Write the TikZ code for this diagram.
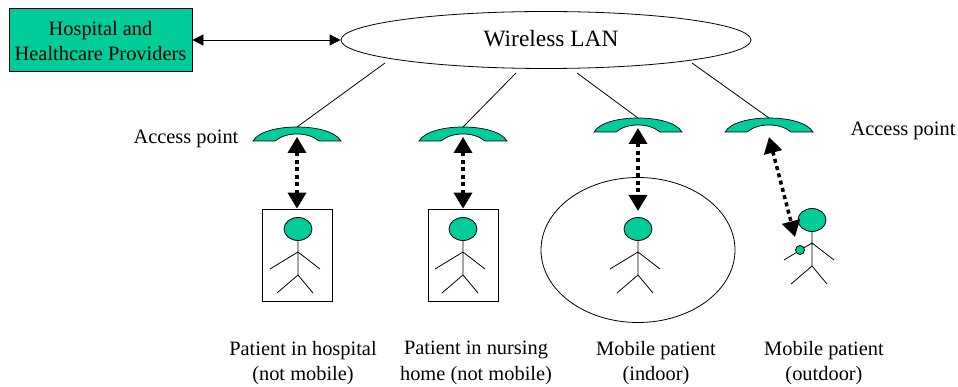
\documentclass[tikz,border=0pt]{standalone}
\usepackage{fontspec}
\setmainfont{Liberation Serif}
\usetikzlibrary{arrows.meta,shapes.geometric}
\definecolor{tealfill}{RGB}{0,204,153}
\tikzset{
  x=1pt,y=-1pt,
  every node/.style={font=\fontsize{20.4}{25.5}\selectfont},
  line/.style={draw=black,line width=0.8pt},
  label/.style={align=center,inner sep=0pt},
  smallarrow/.style={line width=0.8pt,{Triangle[length=11pt,width=11pt]}-{Triangle[length=11pt,width=11pt]}},
  dotarrow/.style={line width=3.5pt,dash pattern=on 4pt off 3.5pt,{Triangle[length=16pt,width=18pt]}-{Triangle[length=16pt,width=18pt]}},
  headnode/.style={ellipse,draw=black,line width=0.8pt,fill=tealfill,minimum width=28pt,minimum height=23pt,inner sep=0pt},
  phone/.pic={
    \path[line,fill=tealfill,line width=0.7pt] (-44,14) .. controls (-38,4) and (-18,0) .. (0,0)
      .. controls (18,0) and (38,4) .. (44,14) -- (22,14)
      .. controls (16,9) and (8,7) .. (0,7)
      .. controls (-8,7) and (-16,9) .. (-22,14) -- cycle;
  },
  stick/.pic={
    \draw[line] (0,12) -- (0,46) (0,23) -- (-28,40) (0,23) -- (22,40) (0,46) -- (-21,64) (0,46) -- (15,64);
  }
}
\begin{document}
\begin{tikzpicture}
\useasboundingbox (0,0) rectangle (958,387);

\node[draw=black,line width=0.8pt,fill=tealfill,minimum width=183pt,minimum height=63pt,inner sep=0pt] (hosp) at (100.5,40) {};
\node[align=center,inner sep=0pt] (hosptext) at (100.5,41) {Hospital and\\Healthcare Providers};
\node[ellipse,draw=black,line width=0.8pt,minimum width=410pt,minimum height=57pt,inner sep=0pt] (wlan) at (546,40) {};
\node[inner sep=0pt,font=\fontsize{23.4}{28}\selectfont] (wlantext) at (551,39) {Wireless LAN};
\draw[smallarrow] (hosp.east) -- (wlan.west);

\coordinate (p1) at (297,127);
\coordinate (p2) at (463,127);
\coordinate (p3) at (638,118);
\coordinate (p4) at (769,118);
\pic at (p1) {phone};
\pic at (p2) {phone};
\pic at (p3) {phone};
\pic at (p4) {phone};

\coordinate (w1) at (385,63);
\coordinate (w2) at (516,73);
\coordinate (w3) at (577,73);
\coordinate (w4) at (692,63);
\draw[line] (w1) -- (p1);
\draw[line] (w2) -- (p2);
\draw[line] (w3) -- (p3);
\draw[line] (w4) -- (p4);

\node[draw=black,line width=0.8pt,minimum width=70pt,minimum height=92pt,inner sep=0pt] (box1) at (297,255) {};
\node[draw=black,line width=0.8pt,minimum width=70pt,minimum height=92pt,inner sep=0pt] (box2) at (463,255) {};
\node[ellipse,draw=black,line width=0.8pt,minimum width=194pt,minimum height=145pt,inner sep=0pt] (circ3) at (638,250) {};

\pic at (298,229) {stick};
\pic at (463,229) {stick};
\pic at (638,229) {stick};
\pic at (812,220) {stick};
\node[headnode] (h1) at (298,229) {};
\node[headnode] (h2) at (463,229) {};
\node[headnode] (h3) at (638,229) {};
\node[headnode] (h4) at (812,220) {};
\node[circle,draw=black,line width=0.8pt,fill=tealfill,minimum size=9pt,inner sep=0pt] (dev) at (800,250) {};

\coordinate (a1) at (297,137);
\coordinate (a2) at (463,137);
\coordinate (a3) at (638,128);
\coordinate (a4) at (769,137);
\coordinate (b3) at (638,211);
\coordinate (b4) at (795,237);
\draw[dotarrow] (a1) -- (box1.north);
\draw[dotarrow] (a2) -- (box2.north);
\draw[dotarrow] (a3) -- (b3);
\draw[dotarrow] (a4) -- (b4);

\node[label] (ap1) at (186,139) {Access point};
\node[label] (ap2) at (903,131) {Access point};
\node[label] (t1) at (303,363) {Patient in hospital\\(not mobile)};
\node[label] (t2) at (476,363) {Patient in nursing\\home (not mobile)};
\node[label] (t3) at (656,363) {Mobile patient\\(indoor)};
\node[label] (t4) at (824,363) {Mobile patient\\(outdoor)};
\end{tikzpicture}
\end{document}
